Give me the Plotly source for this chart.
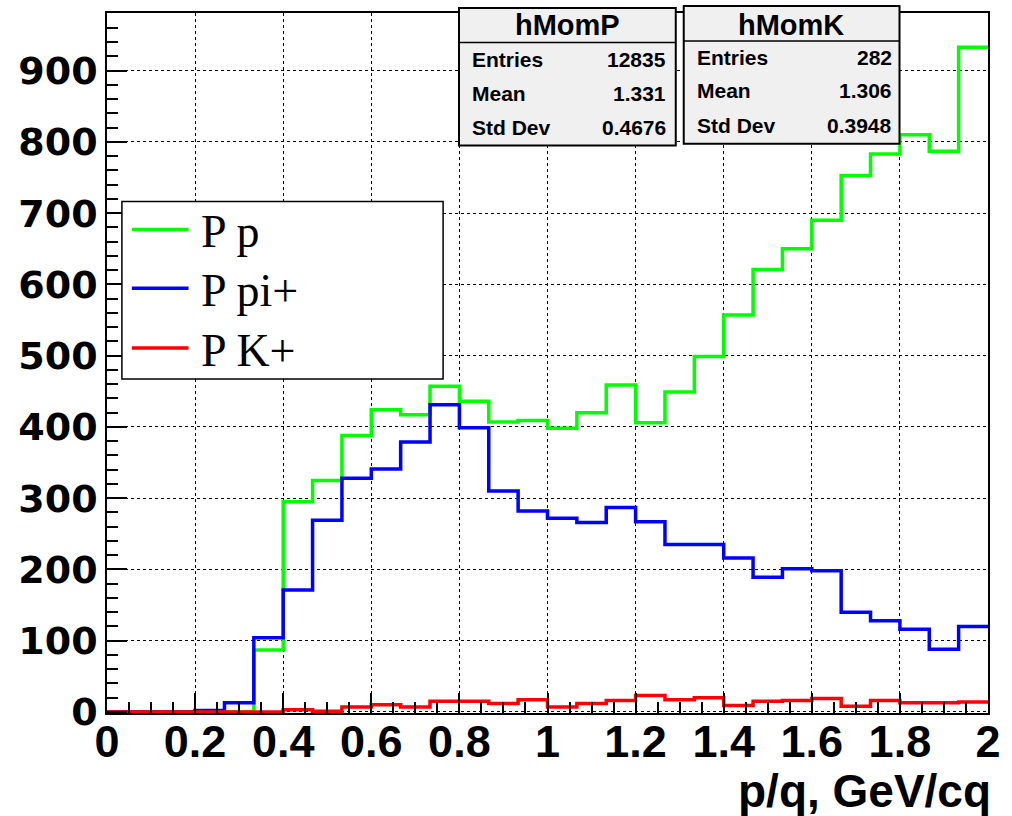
import plotly.graph_objects as go

# ---------------- data ----------------
n_bins = 30
x_min, x_max = 0.0, 2.0
bin_edges = [x_min + i * (x_max - x_min) / n_bins for i in range(n_bins + 1)]

counts_p = [0, 0, 0, 0, 0, 87, 295, 325, 388, 424, 417, 457, 436, 407, 409,
            398, 420, 459, 406, 449, 499, 557, 621, 650, 690, 753, 783, 810, 787, 933]
counts_pi = [0, 0, 0, 2, 13, 104, 171, 269, 328, 341, 379, 431, 399, 310, 282,
             272, 266, 287, 267, 235, 235, 216, 189, 201, 198, 140, 128, 116, 88, 120]
counts_k = [0, 0, 0, 0, 0, 0, 3, 1, 7, 10, 7, 15, 15, 12, 17,
            7, 12, 16, 23, 17, 20, 9, 15, 16, 19, 8, 16, 13, 13, 14]

series_names = ["P p", "P pi+", "P K+"]
series_colors = ["#00ff00", "#0000ff", "#ff0000"]

x_ticks = [0, 0.2, 0.4, 0.6, 0.8, 1.0, 1.2, 1.4, 1.6, 1.8, 2.0]
y_ticks = [0, 100, 200, 300, 400, 500, 600, 700, 800, 900]

stat_labels = ["Entries", "Mean", "Std Dev"]
stats_titles = ["hMomP", "hMomK"]
stats_values = [["12835", "1.331", "0.4676"], ["282", "1.306", "0.3948"]]

x_title = "p/q, GeV/cq"

# ---------------- layout helpers (pixel positions) ----------------
W, H = 1012, 816
L, R, T, B = 107, 19, 11, 103
PW, PH = W - L - R, H - T - B


def px(xp):
    return (xp - L) / PW


def py(yp):
    return (H - B - yp) / PH


fig = go.Figure()

all_counts = [counts_p, counts_pi, counts_k]
for name, color, vals in zip(series_names, series_colors, all_counts):
    fig.add_trace(go.Scatter(
        x=bin_edges[:-1] + [bin_edges[-1]],
        y=vals + [vals[-1]],
        mode="lines",
        line=dict(shape="hv", color=color, width=3.5),
        name=name,
        showlegend=False,
        hoverinfo="skip",
    ))

shapes = []
annotations = []

# ---- manual legend (ROOT TLegend style) ----
shapes.append(dict(type="rect", xref="paper", yref="paper",
                   x0=px(122), x1=px(445), y0=py(378), y1=py(200),
                   line=dict(color="black", width=1.5), fillcolor="white", layer="above"))
leg_rows_y = [228, 287, 347]
for name, color, yr in zip(series_names, series_colors, leg_rows_y):
    shapes.append(dict(type="line", xref="paper", yref="paper",
                       x0=px(132), x1=px(189), y0=py(yr), y1=py(yr),
                       line=dict(color=color, width=3.5), layer="above"))
    annotations.append(dict(xref="paper", yref="paper", x=px(200), y=py(yr + 2),
                            xanchor="left", yanchor="middle", showarrow=False,
                            text=name,
                            font=dict(family="Liberation Serif", size=46, color="black")))

# ---- stats boxes ----
boxes = [
    dict(x0=461, x1=679, y0=6, y1=144, sep=40.5, tx=570, lx=472, vx=671, rows=[58, 92, 126]),
    dict(x0=687, x1=904, y0=4, y1=142, sep=39, tx=795, lx=698, vx=898, rows=[56, 89, 124]),
]
for title, vals, b in zip(stats_titles, stats_values, boxes):
    shapes.append(dict(type="rect", xref="paper", yref="paper",
                       x0=px(b["x0"]), x1=px(b["x1"]), y0=py(b["y1"]), y1=py(b["y0"]),
                       line=dict(color="black", width=2), fillcolor="#f0f0f0", layer="above"))
    shapes.append(dict(type="line", xref="paper", yref="paper",
                       x0=px(b["x0"]), x1=px(b["x1"]), y0=py(b["sep"]), y1=py(b["sep"]),
                       line=dict(color="black", width=1.5), layer="above"))
    annotations.append(dict(xref="paper", yref="paper", x=px(b["tx"]), y=py(23),
                            xanchor="center", yanchor="middle", showarrow=False, text=title,
                            font=dict(family="Liberation Sans", size=29, color="black", weight="bold")))
    for lab, val, ry in zip(stat_labels, vals, b["rows"]):
        annotations.append(dict(xref="paper", yref="paper", x=px(b["lx"]), y=py(ry),
                                xanchor="left", yanchor="middle", showarrow=False, text=lab,
                                font=dict(family="Liberation Sans", size=21, color="black", weight="bold")))
        annotations.append(dict(xref="paper", yref="paper", x=px(b["vx"]), y=py(ry),
                                xanchor="right", yanchor="middle", showarrow=False, text=val,
                                font=dict(family="Liberation Sans", size=21, color="black", weight="bold")))

# ---- x axis title ----
annotations.append(dict(xref="paper", yref="paper", x=px(998), y=py(791),
                        xanchor="right", yanchor="middle", showarrow=False, text=x_title,
                        font=dict(family="Liberation Sans", size=46, color="black", weight="bold")))

fig.update_layout(
    width=W, height=H,
    margin=dict(l=L, r=R, t=T, b=B, pad=0),
    paper_bgcolor="white", plot_bgcolor="white",
    showlegend=False,
    shapes=shapes,
    annotations=annotations,
    xaxis=dict(
        range=[x_min, x_max],
        tickmode="array", tickvals=x_ticks, ticktext=[f"{v:g}" for v in x_ticks],
        ticks="inside", ticklen=20, tickwidth=1.5, tickcolor="black",
        minor=dict(ticks="inside", dtick=0.05, tick0=0, ticklen=11, tickwidth=1.5,
                   tickcolor="black", showgrid=False),
        showline=True, linecolor="black", linewidth=1.5, mirror=True,
        showgrid=True, gridcolor="black", griddash="dot", gridwidth=1,
        zeroline=False,
        tickfont=dict(family="Liberation Sans", size=45, color="black", weight="bold"),
        ticklabelstandoff=-12,
    ),
    yaxis=dict(
        range=[-1.5, 981],
        tickmode="array", tickvals=y_ticks, ticktext=[str(v) for v in y_ticks],
        ticks="inside", ticklen=20, tickwidth=1.5, tickcolor="black",
        minor=dict(ticks="inside", dtick=20, tick0=0, ticklen=11, tickwidth=1.5,
                   tickcolor="black", showgrid=False),
        showline=True, linecolor="black", linewidth=1.5, mirror=True,
        showgrid=True, gridcolor="black", griddash="dot", gridwidth=1,
        zeroline=False,
        tickfont=dict(family="DejaVu Sans", size=38, color="black", weight="bold"),
        ticklabelstandoff=0,
    ),
)

fig.write_html("out.html",
               config={"displayModeBar": False},
               post_script="document.body.style.margin='0';document.body.style.padding='0';")
